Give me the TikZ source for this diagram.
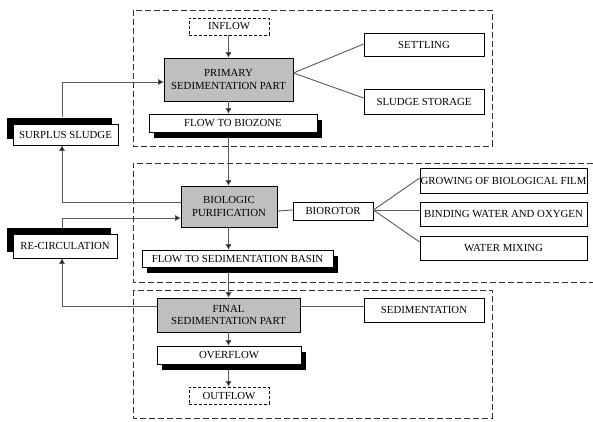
\documentclass[tikz,border=0pt]{standalone}
\usepackage{fontspec}
\setmainfont{Liberation Serif}
\usetikzlibrary{shadows,calc,arrows.meta}
\begin{document}
\begin{tikzpicture}[x=1pt,y=-1pt,
  font=\fontsize{10.8}{12.2}\selectfont,
  box/.style={draw=black, line width=0.8pt, fill=white, inner sep=0pt, align=center},
  graybox/.style={box, fill=gray!50},
  dbox/.style={box, dashed, dash pattern=on 3pt off 2pt},
  shbr/.style={box, drop shadow={shadow xshift=5pt, shadow yshift=-5.5pt, fill=black, opacity=1}},
  shtl/.style={box, drop shadow={shadow xshift=-6pt, shadow yshift=6.5pt, fill=black, opacity=1}},
  region/.style={draw=black!80, line width=0.8pt, dash pattern=on 6pt off 3pt},
  conn/.style={draw=black!65, line width=0.9pt},
  arr/.style={conn, -{Triangle[length=5.5pt,width=5.5pt,fill=black]}}
]
\useasboundingbox (0,0) rectangle (593,421);
% regions
\draw[region] (133,10) rectangle (492,146);
\draw[region] (593,163) -- (133,163) -- (133,282) -- (593,282);
\draw[region] (133,290) rectangle (492,418);

\coordinate (sx) at (62,0);

% top section
\node[dbox, minimum width=80, minimum height=17] (inflow) at (229,26.5) {INFLOW};
\node[graybox, minimum width=129, minimum height=43] (prim) at (228.5,79.5) {PRIMARY\\SEDIMENTATION PART};
\node[shbr, minimum width=168, minimum height=18] (biozone) at (233,123) {FLOW TO BIOZONE};
\node[box, minimum width=120, minimum height=23] (settling) at (424,44.5) {SETTLING};
\node[box, minimum width=120, minimum height=25] (storage) at (424,101.5) {SLUDGE STORAGE};
\node[shtl, minimum width=105, minimum height=21] (surplus) at (65.5,134.5) {SURPLUS SLUDGE};

% middle section
\node[graybox, minimum width=96, minimum height=41] (bio) at (229,206.5) {BIOLOGIC\\PURIFICATION};
\node[box, minimum width=80, minimum height=18] (rotor) at (333,211) {BIOROTOR};
\node[box, minimum width=167, minimum height=25] (growing) at (503.5,180.5) {GROWING OF BIOLOGICAL FILM};
\node[box, minimum width=167, minimum height=24] (binding) at (503.5,214) {BINDING WATER AND OXYGEN};
\node[box, minimum width=167, minimum height=24] (mixing) at (503.5,248) {WATER MIXING};
\node[shtl, minimum width=104, minimum height=24] (recirc) at (65,246) {RE-CIRCULATION};
\node[shbr, minimum width=191, minimum height=17] (basin) at (237.5,258.5) {FLOW TO SEDIMENTATION BASIN};

% bottom section
\node[graybox, minimum width=143, minimum height=34] (final) at (228.5,315) {FINAL\\SEDIMENTATION PART};
\node[box, minimum width=120, minimum height=24] (sediment) at (424,310) {SEDIMENTATION};
\node[shbr, minimum width=144, minimum height=18] (overflow) at (229,355) {OVERFLOW};
\node[dbox, minimum width=80, minimum height=17] (outflow) at (229,395.5) {OUTFLOW};

% main vertical flow
\coordinate (vx) at (228.5,0);
\draw[arr] (inflow.south -| vx) -- (prim.north -| vx);
\draw[arr] (prim.south -| vx) -- (biozone.north -| vx);
\draw[arr] ($(biozone.south -| vx)+(0,5)$) -- (bio.north -| vx);
\draw[arr] (bio.south -| vx) -- (basin.north -| vx);
\draw[arr] ($(basin.south -| vx)+(0,6)$) -- (final.north -| vx);
\draw[arr] (final.south -| vx) -- (overflow.north -| vx);
\draw[arr] ($(overflow.south -| vx)+(0,6)$) -- (outflow.north -| vx);

% side connections
\draw[conn] ($(prim.east)+(0,-6.5)$) -- ($(settling.west)+(0,-0.5)$);
\draw[conn] ($(prim.east)+(0,-6.5)$) -- ($(storage.west)+(0,-3.5)$);
\draw[conn] (rotor.west -| bio.east) -- ($(rotor.west)+(0,-1)$);
\draw[conn] ($(rotor.east)+(0,-1)$) -- ($(growing.west)+(0,-2.5)$);
\draw[conn] ($(rotor.east)+(0,-1)$) -- ($(binding.west)+(0,-4)$);
\draw[conn] ($(rotor.east)+(0,-1)$) -- ($(mixing.west)+(0,-6)$);
\draw[conn] ($(final.east)+(0,-9)$) -- ($(sediment.west)+(0,-4)$);

% return loops
\draw[arr] ($(surplus.north -| sx)+(0,-7)$) |- ($(prim.west)+(0,2.5)$);
\draw[arr] ($(bio.west)+(0,-4.5)$) -| (surplus.south -| sx);
\draw[arr] ($(recirc.north -| sx)+(0,-6)$) |- ($(bio.west)+(0,11.5)$);
\draw[arr] ($(final.west)+(0,-9)$) -| (recirc.south -| sx);
\end{tikzpicture}
\end{document}
